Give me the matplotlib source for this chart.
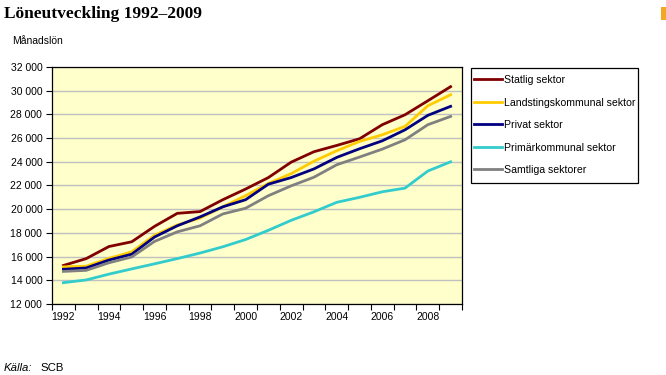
import matplotlib
matplotlib.use("Agg")
import matplotlib.pyplot as plt
from matplotlib.patches import Rectangle
from matplotlib.ticker import FuncFormatter, FixedLocator
import numpy as np

years = list(range(1992, 2010))
statlig = [15250, 15830, 16850, 17250, 18550, 19650, 19800, 20800, 21700, 22670,
           23970, 24850, 25380, 25940, 27130, 27970, 29150, 30340]
landsting = [15130, 15190, 15850, 16400, 17800, 18670, 19250, 20200, 21140, 22170,
             23000, 24050, 24930, 25720, 26280, 26990, 28730, 29660]
privat = [14930, 15040, 15710, 16200, 17650, 18600, 19350, 20200, 20800, 22110,
          22670, 23400, 24370, 25100, 25770, 26700, 27920, 28680]
primar = [13800, 14030, 14520, 14960, 15390, 15830, 16300, 16830, 17440, 18220,
          19060, 19780, 20580, 21000, 21470, 21780, 23220, 24000]
samtliga = [14750, 14840, 15480, 15970, 17280, 18090, 18600, 19600, 20080, 21140,
            21970, 22700, 23750, 24400, 25070, 25860, 27130, 27830]

series_names = ["Statlig sektor", "Landstingskommunal sektor", "Privat sektor",
                "Primärkommunal sektor", "Samtliga sektorer"]
series_vals = [statlig, landsting, privat, primar, samtliga]
colors = ["#800000", "#FFCC00", "#000080", "#33CCCC", "#808080"]

plt.rcParams['font.family'] = ['Liberation Sans', 'DejaVu Sans']

W, H = 666, 375
fig = plt.figure(figsize=(6.66, 3.75), dpi=100)
ax = fig.add_axes([52/W, 1-304/H, 410/W, 237/H])
ax.set_facecolor("#FFFFCC")

x = np.arange(len(years))
lines = []
for name, vals, c in zip(series_names, series_vals, colors):
    ln, = ax.plot(x, vals, color=c, lw=2.0, label=name, zorder=3)
    lines.append(ln)

ax.set_xlim(-0.5, len(years) - 0.5)
ax.set_ylim(12000, 32000)
ax.set_yticks(np.arange(12000, 32001, 2000))
ax.yaxis.set_major_formatter(FuncFormatter(lambda v, p: f"{int(v):,}".replace(",", " ")))
ax.yaxis.grid(True, color="#C0C0C0", lw=1.0, zorder=1)
ax.set_axisbelow(True)

ax.xaxis.set_major_locator(FixedLocator(np.arange(-0.5, len(years), 1.0)))
ax.xaxis.set_major_formatter(FuncFormatter(lambda v, p: ""))
ax.xaxis.set_minor_locator(FixedLocator(x[::2]))
ax.xaxis.set_minor_formatter(FuncFormatter(lambda v, p: str(years[int(round(v))])))
ax.tick_params(axis="x", which="minor", length=0, pad=6, labelsize=7.5)
ax.tick_params(axis="x", which="major", length=4, width=0.8, direction="out")
ax.tick_params(axis="y", length=4, width=0.8, direction="out", labelsize=7.5, pad=3)
for s in ax.spines.values():
    s.set_color("black")
    s.set_linewidth(0.9)

# legend frame drawn separately
fig.patches.append(Rectangle((471/W, 1-183/H), 167/W, 115/H, transform=fig.transFigure,
                             facecolor="white", edgecolor="black", lw=0.9, zorder=0))
leg = fig.legend(handles=lines, loc="upper left", bbox_to_anchor=(471/W, 1-72/H),
                 frameon=False, fontsize=7.6,
                 handlelength=2.6, handletextpad=0.2, borderpad=0.3,
                 labelspacing=1.18, borderaxespad=0)

fig.text(4/W, 1-14/H, "Löneutveckling 1992–2009", fontsize=12.5, fontweight="bold",
         family=["Liberation Serif", "DejaVu Serif"], va="center", ha="left")
fig.text(12/W, 1-41/H, "Månadslön", fontsize=7.5, va="center", ha="left")
fig.text(4/W, 1-368/H, "Källa:", fontsize=8.2, style="italic", va="center", ha="left")
fig.text(40/W, 1-368/H, "SCB", fontsize=8.2, va="center", ha="left")

fig.patches.append(Rectangle((661/W, 1-20/H), 5/W, 13/H, transform=fig.transFigure,
                             facecolor="#F5A623", edgecolor="none"))

fig.savefig("out.png", dpi=100)
